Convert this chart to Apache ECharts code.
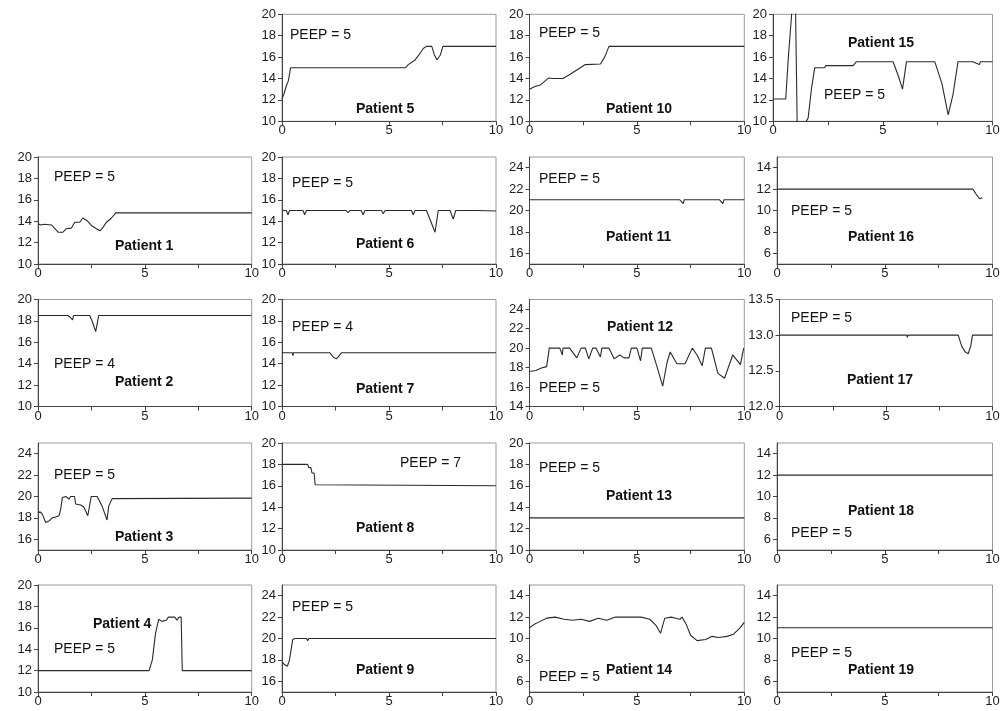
<!DOCTYPE html>
<html>
<head>
<meta charset="utf-8">
<script src="https://cdn.jsdelivr.net/npm/echarts@6/dist/echarts.min.js"></script>
<style>
html,body{margin:0;padding:0;background:#fff;}
#c{width:1008px;height:711px;}
</style>
</head>
<body>
<div id="c"></div>
<script>
// ---------- tick labels ----------
const xTicks = [0, 2.5, 5, 7.5, 10];
const xLabels = [0, 5, 10];
const ticks10to20 = [10, 12, 14, 16, 18, 20];
const ticks15to25 = [16, 18, 20, 22, 24];
const ticks5to15 = [6, 8, 10, 12, 14];
const ticks14to25 = [14, 16, 18, 20, 22, 24];
const ticks12to135 = [12.0, 12.5, 13.0, 13.5];

// ---------- series values [time, value] ----------
const patient1 = [[0,13.75],[0.15,13.65],[0.3,13.72],[0.63,13.65],[0.94,12.97],[1.17,12.97],[1.33,13.3],[1.56,13.35],[1.72,13.9],[1.95,13.9],[2.1,14.3],[2.3,14.05],[2.5,13.6],[2.73,13.3],[2.9,13.1],[3.05,13.45],[3.2,13.9],[3.44,14.3],[3.64,14.78],[10,14.78]];
const patient2 = [[0,18.5],[1.4,18.5],[1.5,18.35],[1.62,18.1],[1.66,18.5],[2.42,18.5],[2.55,17.9],[2.7,17.0],[2.78,17.0],[2.84,18.5],[10,18.5]];
const patient3 = [[0,18.45],[0.1,18.57],[0.2,18.35],[0.36,17.57],[0.51,17.7],[0.67,18.0],[0.87,18.1],[0.98,18.2],[1.06,18.8],[1.14,19.9],[1.3,20.0],[1.45,19.75],[1.52,20.0],[1.71,20.0],[1.76,19.3],[2.0,19.2],[2.15,19.0],[2.33,18.2],[2.49,20.0],[2.77,20.0],[3.0,19.1],[3.23,17.8],[3.31,19.1],[3.47,19.8],[3.55,19.85],[10,19.85]];
const patient4 = [[0,12],[5.2,12],[5.35,13],[5.5,15.5],[5.65,16.8],[5.8,16.6],[6.0,16.7],[6.1,17.0],[6.4,17.0],[6.5,16.7],[6.6,17.0],[6.7,17.0],[6.75,12],[8.5,12],[8.55,11.9],[8.6,12],[10,12]];
const patient5 = [[0,12.1],[0.1,12.6],[0.2,13.3],[0.3,13.8],[0.4,15],[5.76,15],[5.9,15.3],[6.2,15.7],[6.4,16.2],[6.6,16.8],[6.75,17.0],[7.0,17.0],[7.12,16.2],[7.24,15.75],[7.4,16.2],[7.52,17.0],[10,17.0]];
const patient6 = [[0,15],[0.2,15],[0.28,14.6],[0.35,15],[0.98,15],[1.06,14.6],[1.14,15],[3.0,15],[3.09,14.8],[3.18,15],[3.7,15],[3.79,14.6],[3.88,15],[4.65,15],[4.73,14.7],[4.82,15],[6.05,15],[6.13,14.6],[6.22,15],[6.75,15],[6.95,14.0],[7.15,12.97],[7.3,15],[7.85,15],[8.0,14.2],[8.12,15],[8.98,15],[9.06,14.85],[9.14,15],[10,14.95]];
const patient7 = [[0,15.03],[0.48,15.03],[0.51,14.75],[0.54,15.03],[2.23,15.03],[2.4,14.6],[2.54,14.45],[2.66,14.7],[2.78,15.03],[10,15.03]];
const patient8 = [[0,18],[1.2,18],[1.25,17.7],[1.35,17.7],[1.4,17.2],[1.5,17.2],[1.55,16.1],[10,16.0]];
const patient9 = [[0,17.8],[0.1,17.6],[0.25,17.4],[0.35,18.0],[0.5,19.9],[0.6,20],[1.15,20],[1.2,19.8],[1.25,20],[10,20]];
const patient10 = [[0,13.0],[0.25,13.25],[0.51,13.4],[0.88,14.04],[1.1,14.0],[1.55,14.0],[1.9,14.4],[2.2,14.8],[2.6,15.3],[3.3,15.35],[3.5,16.0],[3.7,17.0],[8.1,17.0],[8.15,16.85],[8.2,17.0],[9.4,17.0],[9.45,16.9],[9.5,17.0],[10,17.0]];
const patient11 = [[0,21],[7.0,21],[7.16,20.65],[7.2,21],[8.85,21],[9.0,20.65],[9.05,21],[10,21]];
const patient12 = [[0,17.6],[0.3,17.7],[0.55,17.95],[0.8,18.1],[0.92,20],[1.41,20],[1.53,19.3],[1.56,20],[1.87,20],[2.2,19.0],[2.4,20],[2.6,20],[2.76,18.9],[2.94,20],[3.1,20],[3.3,19.1],[3.37,20],[3.7,20],[3.94,18.9],[4.2,19.3],[4.4,19.0],[4.63,19.0],[4.74,20],[5.0,20],[5.17,18.7],[5.25,20],[5.67,20],[5.95,18.0],[6.2,16.1],[6.4,18.5],[6.55,19.6],[6.86,18.4],[7.24,18.4],[7.58,20],[7.8,19.3],[8.04,18.2],[8.19,20],[8.47,20],[8.77,17.4],[9.08,16.9],[9.46,19.3],[9.82,18.3],[9.97,20]];
const patient13 = [[0,13],[10,13]];
const patient14 = [[0,11.0],[0.2,11.3],[0.5,11.6],[0.8,11.9],[1.2,12.0],[1.6,11.8],[2.0,11.7],[2.4,11.8],[2.8,11.6],[3.2,11.9],[3.6,11.7],[4.0,12.0],[4.6,12.0],[5.2,12.0],[5.6,11.8],[5.9,11.2],[6.1,10.5],[6.3,11.9],[6.6,12.0],[6.8,11.9],[7.0,11.8],[7.1,12.0],[7.3,11.3],[7.5,10.3],[7.8,9.8],[8.2,9.9],[8.5,10.2],[8.8,10.1],[9.2,10.2],[9.5,10.4],[9.8,11.0],[10,11.5]];
const patient15 = [[0,12.08],[0.58,12.08],[0.7,16],[0.85,20],[0.95,22],[1.03,20],[1.1,10],[1.2,9.5],[1.45,9.8],[1.6,10.3],[1.75,13],[1.9,15.0],[2.35,15.0],[2.4,15.2],[3.65,15.2],[3.73,15.05],[3.8,15.57],[5.47,15.57],[5.7,14.3],[5.9,13.0],[6.08,15.57],[7.37,15.57],[7.7,13.5],[7.98,10.6],[8.2,12.5],[8.43,15.57],[9.1,15.57],[9.4,15.3],[9.45,15.57],[10,15.57]];
const patient16 = [[0,12],[9.09,12],[9.27,11.43],[9.4,11.1],[9.53,11.2]];
const patient17 = [[0,13.0],[4.42,13.0],[4.45,12.98],[4.48,13.0],[5.97,13.0],[6.0,12.97],[6.03,13.0],[8.39,13.0],[8.55,12.85],[8.7,12.77],[8.86,12.74],[8.98,12.85],[9.06,13.0],[10,13.0]];
const patient18 = [[0,12],[10,12]];
const patient19 = [[0,11],[10,11]];

const patientNames = ['Patient 1','Patient 2','Patient 3','Patient 4','Patient 5','Patient 6','Patient 7','Patient 8','Patient 9','Patient 10','Patient 11','Patient 12','Patient 13','Patient 14','Patient 15','Patient 16','Patient 17','Patient 18','Patient 19'];
const peepTexts = ['PEEP = 5','PEEP = 4','PEEP = 5','PEEP = 5','PEEP = 5','PEEP = 5','PEEP = 4','PEEP = 7','PEEP = 5','PEEP = 5','PEEP = 5','PEEP = 5','PEEP = 5','PEEP = 5','PEEP = 5','PEEP = 5','PEEP = 5','PEEP = 5','PEEP = 5'];
const seriesData = [patient1,patient2,patient3,patient4,patient5,patient6,patient7,patient8,patient9,patient10,patient11,patient12,patient13,patient14,patient15,patient16,patient17,patient18,patient19];
const yRanges = [[10,20],[10,20],[15,25],[10,20],[10,20],[10,20],[10,20],[10,20],[15,25],[10,20],[15,25],[14,25],[10,20],[5,15],[10,20],[5,15],[12,13.5],[5,15],[5,15]];
const yTickSets = [ticks10to20,ticks10to20,ticks15to25,ticks10to20,ticks10to20,ticks10to20,ticks10to20,ticks10to20,ticks15to25,ticks10to20,ticks15to25,ticks14to25,ticks10to20,ticks5to15,ticks10to20,ticks5to15,ticks12to135,ticks5to15,ticks5to15];

// ---------- layout (positions only) ----------
// [col,row] per patient
const cells = [[0,1],[0,2],[0,3],[0,4],[1,0],[1,1],[1,2],[1,3],[1,4],[2,0],[2,1],[2,2],[2,3],[2,4],[3,0],[3,1],[3,2],[3,3],[3,4]];
const colLeft = [38, 282, 529.5, 777];
const colRight = [251.7, 496, 744.3, 992.5];
const rowTop = [14.3, 157, 299.5, 443, 585];
const plotH = 107;
// text placements: [peepX, peepY, patX, patY]
const textPos = [
  [54,177,115,246],[54,364,115,382],[54,475,115,537],[54,649,93,624],
  [290,35,356,109],[292,183,356,244],[292,327,356,389],[400,463,356,528],[292,607,356,670],
  [539,33,606,109],[539,179,606,237],[539,388,607,327],[539,468,606,496],[539,677,606,670],
  [824,95,848,43],[791,211,848,237],[791,318,847,380],[791,533,848,511],[791,653,848,670]
];
const col4LeftByRow = [773, 777, 779.5, 777, 777];

const FONT = '"Liberation Sans", Arial, Helvetica, sans-serif';
const grids = [], xAxes = [], yAxes = [], series = [], graphics = [];
seriesData.forEach((d, i) => {
  const [c, r] = cells[i];
  const left = c === 3 ? col4LeftByRow[r] : colLeft[c];
  grids.push({left: left, top: rowTop[r], width: colRight[c] - left, height: plotH,
    show: true, borderColor: '#9a9a9a', borderWidth: 1, backgroundColor: 'transparent', outerBoundsMode: 'none', containLabel: false});
  xAxes.push({type: 'value', gridIndex: i, min: 0, max: 10,
    axisLine: {show: true, onZero: false, lineStyle: {color: '#444', width: 1}},
    axisTick: {show: true, customValues: xTicks, length: 4, inside: false, lineStyle: {color: '#444'}},
    axisLabel: {customValues: xLabels, margin: 3, fontSize: 13, color: '#222', fontFamily: FONT},
    splitLine: {show: false}});
  const isDec = yRanges[i][1] === 13.5;
  yAxes.push({type: 'value', gridIndex: i, min: yRanges[i][0], max: yRanges[i][1],
    axisLine: {show: true, onZero: false, lineStyle: {color: '#444', width: 1}},
    axisTick: {show: true, customValues: yTickSets[i], length: 4, lineStyle: {color: '#444'}},
    axisLabel: {customValues: yTickSets[i], margin: 6, fontSize: 13, color: '#222', fontFamily: FONT,
      formatter: v => isDec ? Number(v).toFixed(1) : String(v)},
    splitLine: {show: false}});
  series.push({type: 'line', xAxisIndex: i, yAxisIndex: i, data: d, showSymbol: false, symbol: 'none',
    clip: true, animation: false, lineStyle: {color: '#2a2a2a', width: 1.1}});
  const t = textPos[i];
  graphics.push({type: 'text', x: t[0], y: t[1], silent: true,
    style: {text: peepTexts[i], font: '14px ' + FONT, fill: '#111', align: 'left', verticalAlign: 'middle'}});
  graphics.push({type: 'text', x: t[2], y: t[3], silent: true,
    style: {text: patientNames[i], font: 'bold 14px ' + FONT, fill: '#111', align: 'left', verticalAlign: 'middle'}});
});

const chart = echarts.init(document.getElementById('c'), null, {renderer: 'canvas'});
chart.setOption({
  animation: false,
  backgroundColor: '#fff',
  grid: grids, xAxis: xAxes, yAxis: yAxes, series: series,
  graphic: graphics
});
</script>
</body>
</html>
